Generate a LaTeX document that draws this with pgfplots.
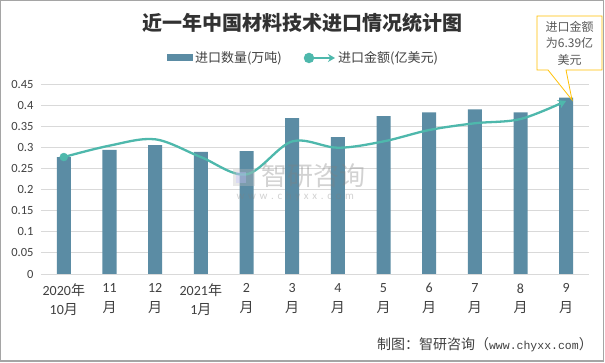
\documentclass[border=0pt]{standalone}
\usepackage{fontspec}
\usepackage{pgfplots}
\pgfplotsset{compat=1.18}
\usetikzlibrary{arrows.meta}
\setmainfont{Carlito}
\newfontfamily\cjk{Noto Sans CJK SC}
\newfontfamily\mono{Liberation Mono}
\definecolor{barc}{RGB}{91,140,164}
\definecolor{linec}{RGB}{78,184,172}
\definecolor{gridc}{RGB}{217,217,217}
\definecolor{txt}{RGB}{64,64,64}
\definecolor{callc}{RGB}{255,192,0}
\definecolor{bord}{RGB}{165,165,165}
\begin{document}
\begin{tikzpicture}[x=1pt,y=1pt]
\useasboundingbox (0,0) rectangle (605,363);
\fill[white] (0,0) rectangle (605,363);
\draw[bord, line width=1.2pt] (0.8,2) rectangle (603.5,362.2);
\begin{axis}[
  at={(41pt,89pt)}, anchor=south west, scale only axis,
  width=548pt, height=190pt,
  xmin=-0.5, xmax=11.5, ymin=0, ymax=0.45,
  axis line style={draw=none},
  ymajorgrids, grid style={gridc, line width=0.8pt},
  ytick={0,0.05,0.1,0.15,0.2,0.25,0.3,0.35,0.4,0.45},
  yticklabels={0,0.05,0.1,0.15,0.2,0.25,0.3,0.35,0.4,0.45},
  major tick length=0pt,
  yticklabel style={font=\fontsize{12.5}{14}\selectfont, text=txt, anchor=east, xshift=-4pt},
  xtick={0,1,2,3,4,5,6,7,8,9,10,11},
  xticklabels={
    {2020{\cjk 年}\\10{\cjk 月}},
    {11\\{\cjk 月}},
    {12\\{\cjk 月}},
    {2021{\cjk 年}\\1{\cjk 月}},
    {2\\{\cjk 月}},
    {3\\{\cjk 月}},
    {4\\{\cjk 月}},
    {5\\{\cjk 月}},
    {6\\{\cjk 月}},
    {7\\{\cjk 月}},
    {8\\{\cjk 月}},
    {9\\{\cjk 月}}},
  xticklabel style={align=center, font=\fontsize{14}{19.5}\selectfont, text=txt, anchor=north, yshift=-6pt},
  legend style={at={(0.479,1.137)}, anchor=center, draw=none, fill=none,
    legend columns=2, font=\cjk\fontsize{13}{15}\selectfont, text=txt,
    /tikz/every even column/.append style={column sep=20pt}},
  legend cell align=left,
  clip=false,
]
\addplot[ybar, bar width=14pt, fill=barc, draw=none,
  legend image code/.code={\fill[barc] (0pt,-3.5pt) rectangle (26pt,3.5pt);}]
  coordinates {(0,0.277) (1,0.294) (2,0.305) (3,0.289) (4,0.291) (5,0.369)
               (6,0.324) (7,0.374) (8,0.383) (9,0.390) (10,0.383) (11,0.418)};
\addlegendentry{进口数量(万吨)}
\addplot[linec, line width=2.3pt, smooth, tension=0.55,
  -{Stealth[length=8pt,width=9pt]},
  legend image code/.code={\draw[linec, line width=2.3pt, -{Stealth[length=7pt,width=8pt]}] (0pt,0pt) -- (29pt,0pt);
     \fill[linec] (3pt,0pt) circle (4pt);}]
  coordinates {(0,0.277) (1,0.304) (2,0.319) (3,0.277) (4,0.236) (5,0.314)
               (6,0.299) (7,0.314) (8,0.341) (9,0.357) (10,0.367) (11,0.410)};
\addlegendentry{进口金额(亿美元)}
\addplot[only marks, mark=*, mark size=4pt, mark options={fill=linec, draw=linec}, forget plot]
  coordinates {(0,0.277)};
\end{axis}
% watermark
\begin{scope}[opacity=0.35]
\fill[black!25] (233,177) rectangle (255,194);
\fill[blue!25] (236,180) rectangle (246,191);
\node[gray, font=\cjk\fontsize{26}{28}\selectfont, anchor=west] at (258,187) {智研咨询};
\node[gray, font=\fontsize{11}{12}\selectfont, anchor=west] at (233,166) {w\,\,w\,\,w\,\,.\,\,c\,\,h\,\,y\,\,x\,\,x\,\,.\,\,c\,\,o\,\,m};
\end{scope}
% title
\node[text={rgb,255:red,50;green,50;blue,50}, font=\cjk\bfseries\fontsize{20}{24}\selectfont] at (302.5,340) {近一年中国材料技术进口情况统计图};
% callout
\draw[callc, line width=0.8pt, fill=white] (537,293) -- (548,293) -- (572,263) -- (566,293) -- (602,293) -- (602,347) -- (537,347) -- cycle;
\node[align=center, text={rgb,255:red,89;green,89;blue,89}, font=\cjk\fontsize{12}{16.5}\selectfont] at (569.5,320) {进口金额\\为6.39亿\\美元};
% footer
\node[anchor=east, text=txt, font=\cjk\fontsize{14}{16}\selectfont, inner sep=0pt] at (593,18) {制图：智研咨询（{\mono\fontsize{11.5}{14}\selectfont www.chyxx.com}）};
\end{tikzpicture}
\end{document}
